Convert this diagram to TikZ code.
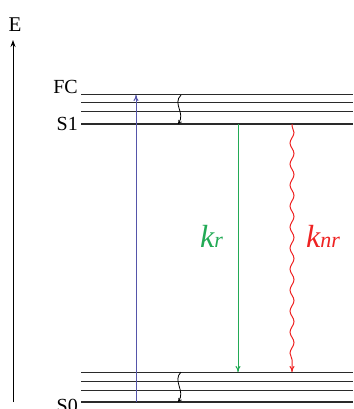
\documentclass[tikz,border=0pt]{standalone}
\usepackage{fontspec}
\setmainfont{Liberation Serif}
\usetikzlibrary{arrows.meta,decorations.pathmorphing}
\definecolor{lev}{HTML}{2A2A2A}
\definecolor{bl}{HTML}{5555AA}
\definecolor{gr}{HTML}{22AA55}
\definecolor{rd}{HTML}{EE2222}
\begin{document}
\begin{tikzpicture}[x=1pt,y=-1pt,
  thinlev/.style={draw=lev,line width=1pt},
  thicklev/.style={draw=lev,line width=2.2pt},
  lbl/.style={inner sep=0pt,font=\fontsize{20}{20}\selectfont},
  tip/.style={-{To[length=6pt,width=5pt]}},
  rate/.style={inner sep=0pt,font=\fontsize{32}{32}\selectfont\itshape}]
\useasboundingbox (0,0) rectangle (353,409);
% levels
\foreach \n/\y in {fc/95,a/103,b/112,s/124,c/372,d/381,e/390,z/402}{
  \coordinate (\n L) at (81,\y);
  \coordinate (\n R) at (353,\y);
}
\foreach \n in {fc,a,b,c,d,e}{\draw[thinlev] (\n L) -- (\n R);}
\draw[thicklev] (sL) -- (sR);
\draw[thicklev] (zL) -- (zR);
% labels
\node[lbl,anchor=east] (FC) at (78,87) {FC};
\node[lbl,anchor=east] (S1) at (78,124) {S1};
\node[lbl,anchor=east] (S0) at (78,406) {S0};
\node[lbl,font=\fontsize{21}{21}\selectfont] (E) at (15,25) {E};
% axis
\coordinate (ax0) at (13,402);
\coordinate (ax1) at (13,40);
\draw[line width=0.9pt,-{Stealth[length=7pt,width=5pt]}] (ax0) -- (ax1);
% absorption
\coordinate (ab0) at (136,402);
\coordinate (ab1) at (136,95);
\draw[bl,line width=1pt,tip] (ab0) -- (ab1);
% relaxation wiggles
\coordinate (w1a) at (181,95);
\coordinate (w1b) at (178,124);
\draw[black,line width=0.8pt,-{To[length=4pt,width=4pt]}] (w1a) .. controls (172,104) and (186,113) .. (w1b);
\coordinate (w2a) at (181,372);
\coordinate (w2b) at (178,402);
\draw[black,line width=0.8pt,-{To[length=4pt,width=4pt]}] (w2a) .. controls (172,381) and (186,391) .. (w2b);
% radiative
\coordinate (r0) at (238,124);
\coordinate (r1) at (238,372);
\draw[gr,line width=1pt,tip] (r0) -- (r1);
% non-radiative
\coordinate (n0) at (292,124);
\coordinate (n1) at (292,372);
\draw[rd,line width=1pt,tip,decorate,decoration={snake,segment length=21pt,amplitude=2pt,pre length=2pt,post length=6pt}] (n0) -- (n1);
% rate labels
\node[rate,text=gr,anchor=base west] (kr) at (200,247) {k\fontsize{22}{22}\selectfont r};
\node[rate,text=rd,anchor=base west] (knr) at (306,247) {k\fontsize{22}{22}\selectfont nr};
\end{tikzpicture}
\end{document}
